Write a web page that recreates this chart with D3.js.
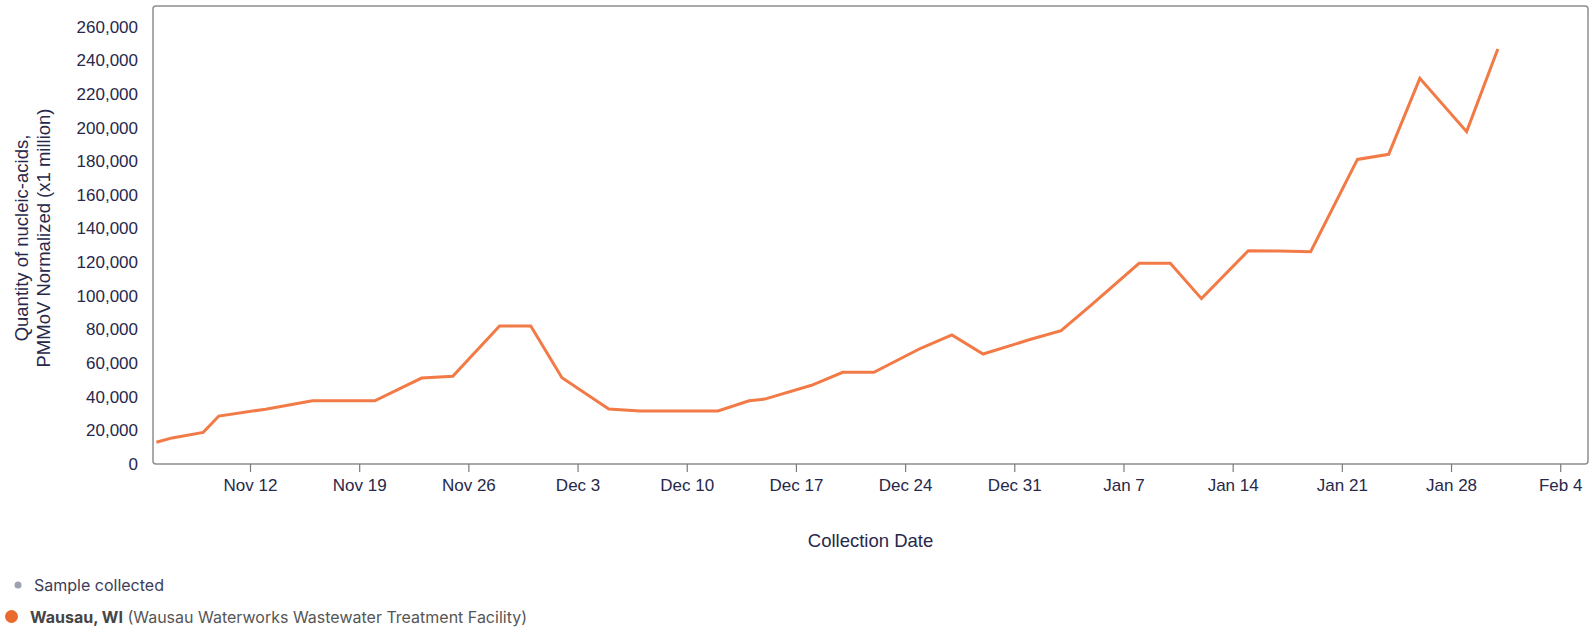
<!DOCTYPE html>
<html>
<head>
<meta charset="utf-8">
<script src="https://cdn.jsdelivr.net/npm/d3@7"></script>
<style>
  html, body { margin: 0; padding: 0; background: #ffffff; }
  svg { display: block; }
</style>
</head>
<body>
<svg id="chart" width="1595" height="628"></svg>
<script>
// ---- data ----
const sampleDates = [
  "2023-11-06","2023-11-07","2023-11-09","2023-11-10","2023-11-13","2023-11-16",
  "2023-11-20","2023-11-23","2023-11-25","2023-11-28","2023-11-30","2023-12-02",
  "2023-12-05","2023-12-07","2023-12-12","2023-12-14","2023-12-15","2023-12-18",
  "2023-12-20","2023-12-22","2023-12-25","2023-12-27","2023-12-29","2024-01-01",
  "2024-01-03","2024-01-05","2024-01-08","2024-01-10","2024-01-12","2024-01-15",
  "2024-01-17","2024-01-19","2024-01-22","2024-01-24","2024-01-26","2024-01-29",
  "2024-01-31"
];
const wausauValues = [
  12900, 15500, 18800, 28500, 32600, 37600,
  37600, 51100, 52100, 82000, 82000, 51300,
  32700, 31500, 31500, 37600, 38600, 46800,
  54500, 54500, 68800, 76700, 65400, 74000,
  79300, 95000, 119300, 119300, 98300, 126800,
  126600, 126200, 181100, 184100, 229300, 197600,
  246700
];
const yTickValues = [0,20000,40000,60000,80000,100000,120000,140000,160000,180000,200000,220000,240000,260000];
const yTitleLines = ["Quantity of nucleic-acids,", "PMMoV Normalized (x1 million)"];
const xTitle = "Collection Date";
const legendSample = "Sample collected";
const legendSiteName = "Wausau, WI";
const legendSiteDetail = " (Wausau Waterworks Wastewater Treatment Facility)";

// ---- layout ----
const plot = { left: 153, right: 1588, top: 6, bottom: 464 };
const textColor = "#27284a";
const lineColor = "#F27A46";

const parse = d3.timeParse("%Y-%m-%d");
const data = sampleDates.map((d, i) => ({ date: parse(d), value: wausauValues[i] }));

const svg = d3.select("#chart");

const x = d3.scaleTime()
  .domain([new Date(2023, 10, 5, 18, 45), new Date(2024, 1, 5, 18, 45)])
  .range([plot.left, plot.right]);
const y = d3.scaleLinear()
  .domain([0, 272300])
  .range([plot.bottom, plot.top]);

// frame
svg.append("rect")
  .attr("x", plot.left).attr("y", plot.top)
  .attr("width", plot.right - plot.left).attr("height", plot.bottom - plot.top)
  .attr("rx", 3).attr("ry", 3)
  .attr("fill", "none").attr("stroke", "#8e8e8e").attr("stroke-width", 1.5);

// y axis
const yAxis = svg.append("g")
  .attr("transform", `translate(${plot.left},0)`)
  .call(d3.axisLeft(y).tickValues(yTickValues).tickSize(0).tickPadding(15)
    .tickFormat(d3.format(",")));
yAxis.select(".domain").remove();
yAxis.selectAll("text")
  .attr("fill", textColor)
  .style("font-family", "'Liberation Sans', Arial, sans-serif")
  .style("font-size", "17px");

// x axis
const xAxis = svg.append("g")
  .attr("transform", `translate(0,${plot.bottom})`)
  .call(d3.axisBottom(x)
    .ticks(d3.timeWeek.every(1))
    .tickSize(8).tickPadding(7)
    .tickFormat(d3.timeFormat("%b %-d")));
xAxis.select(".domain").remove();
xAxis.selectAll("line").attr("stroke", "#7a7a7a").attr("stroke-width", 1.2);
xAxis.selectAll("text")
  .attr("fill", textColor)
  .style("font-family", "'Liberation Sans', Arial, sans-serif")
  .style("font-size", "17px");

// line
const line = d3.line().x(d => x(d.date)).y(d => y(d.value));
svg.append("path")
  .datum(data)
  .attr("d", line)
  .attr("fill", "none")
  .attr("stroke", lineColor)
  .attr("stroke-width", 3)
  .attr("stroke-linejoin", "miter");

// axis titles
svg.append("text")
  .attr("x", (plot.left + plot.right) / 2)
  .attr("y", 540)
  .attr("text-anchor", "middle")
  .attr("dominant-baseline", "central")
  .attr("fill", textColor)
  .style("font-family", "'Liberation Sans', Arial, sans-serif")
  .style("font-size", "18.5px")
  .text(xTitle);

const yT = svg.append("g").attr("transform", "translate(0,238) rotate(-90)");
yTitleLines.forEach((t, i) => {
  yT.append("text")
    .attr("x", 0)
    .attr("y", 21.5 + i * 21.7)
    .attr("text-anchor", "middle")
    .attr("dominant-baseline", "central")
    .attr("fill", textColor)
    .style("font-family", "'Liberation Sans', Arial, sans-serif")
    .style("font-size", "18.5px")
    .text(t);
});

// legend
svg.append("circle").attr("cx", 18).attr("cy", 585).attr("r", 3.5).attr("fill", "#9ea2b0");
svg.append("text")
  .attr("x", 34).attr("y", 585)
  .attr("dominant-baseline", "central")
  .attr("fill", "#3c3c5a")
  .style("font-family", "Inter, sans-serif")
  .style("font-size", "16px")
  .text(legendSample);

svg.append("circle").attr("cx", 11.5).attr("cy", 616.5).attr("r", 6.5).attr("fill", "#EA6A2D");
const lt = svg.append("text")
  .attr("x", 30).attr("y", 616.5)
  .attr("dominant-baseline", "central")
  .style("font-family", "Inter, sans-serif")
  .style("font-size", "16px");
lt.append("tspan").attr("fill", "#454545").style("font-weight", "700").text(legendSiteName);
lt.append("tspan").attr("fill", "#565656").text(legendSiteDetail);
</script>
</body>
</html>
